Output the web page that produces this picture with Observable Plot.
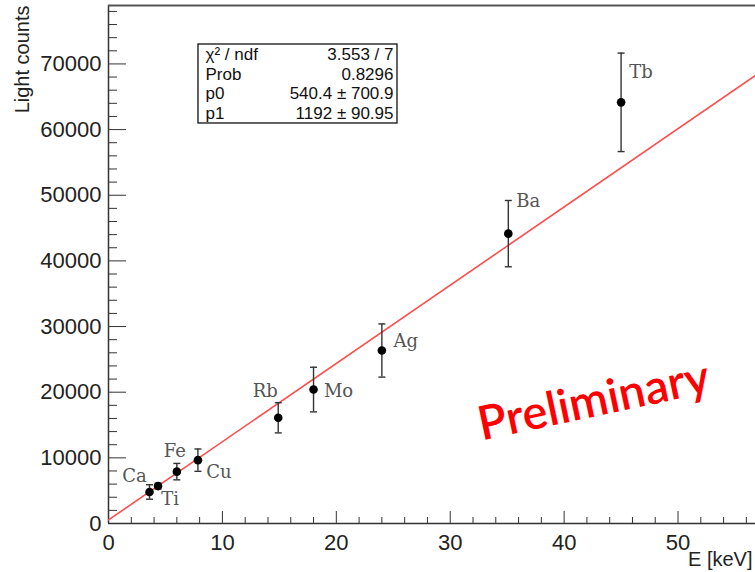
<!DOCTYPE html>
<html><head><meta charset="utf-8">
<script src="https://cdn.jsdelivr.net/npm/d3@7"></script>
<script src="https://cdn.jsdelivr.net/npm/@observablehq/plot@0.6"></script>
<style>body{margin:0;background:#fff;overflow:hidden}</style>
</head><body><div id="chart"></div>
<script>
// ---- data ----
const elements = ["Ca", "Ti", "Fe", "Cu", "Rb", "Mo", "Ag", "Ba", "Tb"];
const energy = [3.6, 4.35, 6.0, 7.85, 14.9, 18.0, 24.0, 35.1, 45.0];
const counts = [4800, 5700, 7900, 9650, 16100, 20400, 26350, 44150, 64150];
const countErrors = [1100, 450, 1250, 1700, 2300, 3400, 4050, 5050, 7500];
const fitP0 = 540.4, fitP1 = 1192;
const statsNames = ["χ² / ndf", "Prob", "p0", "p1"];
const statsValues = ["3.553 / 7", "0.8296", "540.4 ± 700.9", "1192 ± 90.95"];
const xMajorTicks = [0, 10, 20, 30, 40, 50];
const xMinorTicks = [2,4,6,8,12,14,16,18,22,24,26,28,32,34,36,38,42,44,46,48,52,54,56];
const yMajorTicks = [0, 10000, 20000, 30000, 40000, 50000, 60000, 70000];
const yMinorTicks = d3.range(2000, 78001, 2000).filter(v => v % 10000 !== 0);

// ---- layout / style (not data) ----
const xDomain = [0, 56.8], yDomain = [0, 78900];
const labelDx = [-15, 12, -2, 21, -13, 25, 24, 20, 20];
const labelDy = [-16, 13, -20, 12, -27, 2, -9, -32, -30];
const statsBox = {x1: 7.9, x2: 25.37, y1: 60930, y2: 72960};
const prelimPos = {x: 42.6, y: 18600};

const rows = elements.map((el, i) => ({el, x: energy[i], y: counts[i], lo: counts[i] - countErrors[i], hi: counts[i] + countErrors[i]}));
const fitRows = xDomain.map(x => ({x, y: fitP0 + fitP1 * x}));
const statRows = statsNames.map((n, i) => ({n, v: statsValues[i], y: statsBox.y2 - (i + 0.5) * (statsBox.y2 - statsBox.y1) / 4}));

const capSymbol = {draw(ctx) { ctx.moveTo(-3.5, 0); ctx.lineTo(3.5, 0); }};
const labelFont = "'DejaVu Serif', 'Courier New', serif";
const axisColor = "#333";

const chart = Plot.plot({
  width: 755, height: 572,
  marginLeft: 108, marginRight: 0, marginTop: 5, marginBottom: 49,
  x: {domain: xDomain, label: null},
  y: {domain: yDomain, label: null},
  style: {fontFamily: "'Liberation Sans', Arial, Helvetica, sans-serif", background: "white", color: "#222", overflow: "visible"},
  marks: [
    // frame
    Plot.ruleX([0], {stroke: axisColor, strokeWidth: 1.5}),
    Plot.ruleY([0], {stroke: axisColor, strokeWidth: 1.5}),
    Plot.ruleY([yDomain[1]], {stroke: "#555", strokeWidth: 2}),
    // axes
    Plot.axisY(yMinorTicks, {tickSize: -9, tickFormat: () => "", label: null, stroke: axisColor}),
    Plot.axisY(yMajorTicks, {tickSize: -18, tickPadding: 25, tickFormat: d => String(d), label: null, stroke: axisColor, fontSize: 22, fill: "#222"}),
    Plot.axisX(xMinorTicks, {tickSize: -6, tickFormat: () => "", label: null, stroke: axisColor}),
    Plot.axisX(xMajorTicks, {tickSize: -12, tickPadding: 23, tickFormat: d => String(d), label: null, stroke: axisColor, fontSize: 22, fill: "#222"}),
    // axis titles
    Plot.text(["Light counts"], {frameAnchor: "top-left", dx: -94, dy: 0, rotate: -90, textAnchor: "end", fontSize: 20, fill: "#222"}),
    Plot.text(["E [keV]"], {frameAnchor: "bottom-right", dx: -3, dy: 42, textAnchor: "end", fontSize: 20, fill: "#222"}),
    // fit line
    Plot.line(fitRows, {x: "x", y: "y", stroke: "#ff4d4d", strokeWidth: 1.6, clip: true}),
    // error bars and caps
    Plot.ruleX(rows, {x: "x", y1: "lo", y2: "hi", stroke: "#333", strokeWidth: 1.4}),
    Plot.dot(rows, {x: "x", y: "hi", symbol: capSymbol, fill: "none", stroke: "#333", strokeWidth: 1.4}),
    Plot.dot(rows, {x: "x", y: "lo", symbol: capSymbol, fill: "none", stroke: "#333", strokeWidth: 1.4}),
    // points
    Plot.dot(rows, {x: "x", y: "y", r: 4.3, fill: "black", stroke: "none"}),
    // element labels
    ...rows.map((d, i) => Plot.text([d], {x: "x", y: "y", text: "el", dx: labelDx[i], dy: labelDy[i], fontFamily: labelFont, fontSize: 18, fill: "#555"})),
    // stats box
    Plot.rect([statsBox], {x1: "x1", x2: "x2", y1: "y1", y2: "y2", fill: "white", stroke: "#111", strokeWidth: 1.3}),
    Plot.text(statRows, {x: statsBox.x1, y: "y", text: "n", dx: 7, textAnchor: "start", fontSize: 17, fill: "#111"}),
    Plot.text(statRows, {x: statsBox.x2, y: "y", text: "v", dx: -4, textAnchor: "end", fontSize: 17, fill: "#111"}),
    // Preliminary stamp
    Plot.text([prelimPos], {x: "x", y: "y", text: () => "Preliminary", rotate: -12, fontSize: 47, fontWeight: 600, fontFamily: "Lato, 'Open Sans', sans-serif", fill: "#ff0000"})
  ]
});
document.getElementById("chart").appendChild(chart);
</script>
</body></html>
